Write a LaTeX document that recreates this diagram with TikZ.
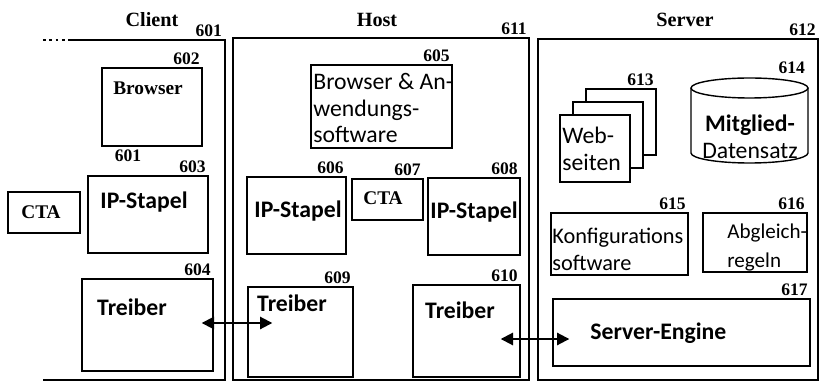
\documentclass[tikz,border=0pt]{standalone}
\usepackage{fontspec}
\setmainfont{Liberation Serif}
\newfontfamily\boxfont{Carlito}
\usetikzlibrary{positioning,calc,fit}
\usetikzlibrary{arrows.meta}
\tikzset{
	box/.style={draw=black,line width=0.8pt,inner sep=0pt,fill=white},
	frame/.style={draw=black,line width=0.8pt,inner sep=0pt},
	num/.style={font=\bfseries\fontsize{10}{11}\selectfont,inner sep=1.5pt},
	head/.style={font=\bfseries\fontsize{11.5}{12}\selectfont,inner sep=0pt},
	serb/.style={font=\bfseries\fontsize{11}{12}\selectfont,inner sep=0pt},
	sans/.style={font=\boxfont\fontsize{13.5}{15.3}\selectfont,inner sep=0pt,align=left},
	sansb/.style={font=\boxfont\bfseries\fontsize{13.5}{15.3}\selectfont,inner sep=0pt,align=left},
	link/.style={draw=black,line width=1.1pt,{Triangle[length=7pt,width=7pt]}-{Triangle[length=7pt,width=7pt]}},
}

\begin{document}
\begin{tikzpicture}[x=0.02cm,y=-0.02cm]
	\useasboundingbox (0,0) rectangle (827,381);
	% client side
	\coordinate (c0) at (43,40);
	\coordinate (c1) at (68,40);
	\coordinate (c2) at (225,40);
	\coordinate (c3) at (225,380);
	\coordinate (c4) at (43,380);
	\draw[line width=1.2pt,dash pattern=on 1.6pt off 2pt] (c0) -- (c1);
	\draw[line width=0.8pt] (c1) -- (c2) -- (c3) -- (c4);
	\node[head] (hclient) at (152,20) {Client};
	\node[num,anchor=south east] (l601) at (c2) {601};
	\node[box,fit={(102,68) (202,146)},label={[num,anchor=south east]north east:602},
		label={[num,anchor=north west,xshift=6pt]south west:601}] (b602) {};
	\node[serb] (t602) at (148,88) {Browser};
	\node[box,fit={(88,176) (208,253)},label={[num,anchor=south east]north east:603}] (b603) {};
	\node[sansb] (t603) at (144,202) {IP-Stapel};
	\node[box,fit={(8,192) (80,233)}] (cta1) {};
	\node[serb] (tcta1) at (41,212) {CTA};
	\node[box,fit={(82,279) (213,371)},label={[num,anchor=south east]north east:604}] (b604) {};
	\node[sansb] (t604) at (132,307) {Treiber};

	% host
	\node[frame,fit={(233,38) (529,380)},label={[num,anchor=south east]north east:611}] (host) {};
	\node[head] (hhost) at (377,20) {Host};
	\node[box,fit={(311,65) (452,148)},label={[num,anchor=south east]north east:605}] (b605) {};
	\node[sans,anchor=west] (t605) at (313,108) {Browser \& An-\\wendungs-\\software};
	\node[box,fit={(247,177) (346,254)},label={[num,anchor=south east]north east:606}] (b606) {};
	\node[sansb] (t606) at (298,211) {IP-Stapel};
	\node[box,fit={(352,179) (423,220)},label={[num,anchor=south east]north east:607}] (b607) {};
	\node[serb] (t607) at (383,198) {CTA};
	\node[box,fit={(428,178) (520,255)},label={[num,anchor=south east]north east:608}] (b608) {};
	\node[sansb] (t608) at (474,212) {IP-Stapel};
	\node[box,fit={(248,287) (353,377)},label={[num,anchor=south east]north east:609}] (b609) {};
	\node[sansb] (t609) at (292,303) {Treiber};
	\node[box,fit={(413,285) (520,377)},label={[num,anchor=south east]north east:610}] (b610) {};
	\node[sansb] (t610) at (460,310) {Treiber};

	% server
	\node[frame,fit={(538,39) (818,380)},label={[num,anchor=south east]north east:612}] (server) {};
	\node[head] (hserver) at (685,20) {Server};
	\node[box,fit={(586,89) (656,155)},label={[num,anchor=south east]north east:613}] (pg3) {};
	\node[box,fit={(573,102) (643,168)}] (pg2) {};
	\node[box,fit={(560,115) (630,182)}] (pg1) {};
	\node[sans,anchor=west] (t613) at (562,149) {Web-\\seiten};
	\draw[box] (691,88) -- (691,153) arc[start angle=180,end angle=360,x radius=1.17cm,y radius=0.2cm] -- (808,88);
	\draw[box] (749.5,88) ellipse[x radius=1.17cm,y radius=0.2cm];
	\node[num,anchor=south east] (l614) at (808,77) {614};
	\node[sans,align=center] (t614) at (750,137) {\bfseries Mitglied-\\Datensatz};
	\node[box,fit={(551,213) (688,275)},label={[num,anchor=south east]north east:615}] (b615) {};
	\node[sans,anchor=west,font=\boxfont\fontsize{12.7}{15.3}\selectfont] (t615) at (552,249) {Konfigurations\\software};
	\node[box,fit={(703,213) (807,272)},label={[num,anchor=south east]north east:616}] (b616) {};
	\node[sans,anchor=west,font=\boxfont\fontsize{12}{16.5}\selectfont] (t616) at (727,247) {Abgleich-\\regeln};
	\node[box,fit={(553,299) (810,366)},label={[num,anchor=south east]north east:617}] (b617) {};
	\node[sansb,anchor=west] (t617) at (590,333) {Server-Engine};

	% links
	\draw[link] ($(b604.east)+(-12,-2)$) -- ($(b609.west)+(25,-9)$);
	\draw[link] ($(b610.east)+(-20,8)$) -- ($(b617.west)+(17,6.5)$);
\end{tikzpicture}
\end{document}
